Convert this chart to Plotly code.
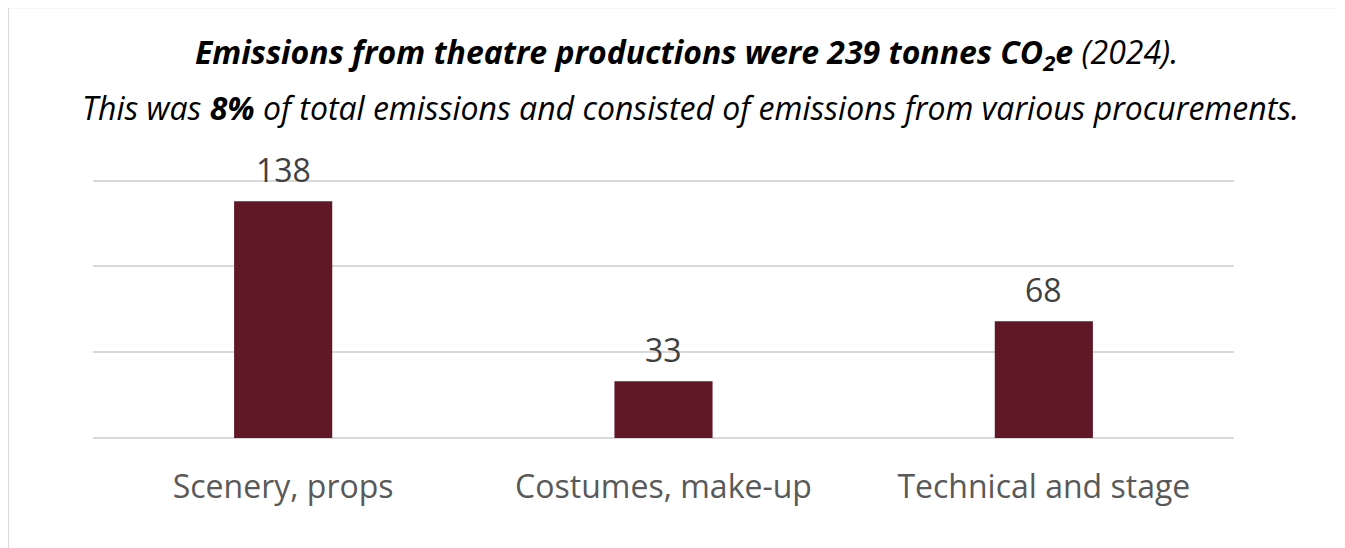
import plotly.graph_objects as go

categories = ["Scenery, props", "Costumes, make-up", "Technical and stage"]
values = [138, 33, 68]
y_ticks = [0, 50, 100, 150]

BAR_COLOR = "#601726"
GRID = "#d9d9d9"
FONT = "Open Sans"

W, H = 1345, 548
OFF = 8  # page body margin
# layout in page pixel coordinates of the reference
plot_left, plot_right = 93, 1234
base_y, top_grid_y = 438, 181
y_max = 155
px_per_unit = (base_y - top_grid_y) / 150
plot_top = base_y - y_max * px_per_unit

L = plot_left - OFF
T = plot_top - OFF
pw = plot_right - plot_left
ph = base_y - plot_top
R = W - L - pw
B = H - T - ph

def px_to_paper_x(px):
    return (px - plot_left) / pw

def px_to_paper_y(py):
    return (base_y - py) / ph

fig = go.Figure()
fig.add_trace(go.Bar(
    x=categories, y=values, marker_color=BAR_COLOR, marker_line_width=0,
    hoverinfo="x+y",
))

for c, v in zip(categories, values):
    fig.add_annotation(x=c, y=v, xref="x", yref="y", text=str(v), showarrow=False,
                       yanchor="bottom", yshift=8,
                       font=dict(family=FONT, size=32, color="#404040"))

fig.add_annotation(
    xref="paper", yref="paper", x=px_to_paper_x(686), y=px_to_paper_y(54),
    xanchor="center", yanchor="middle", showarrow=False,
    text="<b><i>Emissions from theatre productions were 239 tonnes CO<sub><span style='font-size:22px'>2</span></sub>e</i></b><i> (2024).</i>",
    font=dict(family=FONT, size=32, color="#000000"))
fig.add_annotation(
    xref="paper", yref="paper", x=px_to_paper_x(690), y=px_to_paper_y(108),
    xanchor="center", yanchor="middle", showarrow=False,
    text="<i>This was <b>8%</b> of total emissions and consisted of emissions from various procurements.</i>",
    font=dict(family=FONT, size=32, color="#000000"))

fig.add_shape(type="rect", xref="paper", yref="paper",
              x0=px_to_paper_x(OFF - 0.5), x1=px_to_paper_x(1400),
              y0=px_to_paper_y(650), y1=px_to_paper_y(OFF - 0.5),
              line=dict(color=GRID, width=3), fillcolor="rgba(0,0,0,0)", layer="below")

fig.update_layout(
    width=W, height=H,
    margin=dict(l=L, r=R, t=T, b=B, pad=0),
    paper_bgcolor="white", plot_bgcolor="white",
    bargap=0.742, showlegend=False,
    font=dict(family=FONT),
    xaxis=dict(showgrid=False, showline=False, ticks="", ticklabelstandoff=27,
               tickfont=dict(family=FONT, size=32, color="#595959")),
    yaxis=dict(range=[0, y_max], tickvals=y_ticks, showticklabels=False,
               showgrid=True, gridcolor=GRID, gridwidth=2, zeroline=True,
               zerolinecolor=GRID, zerolinewidth=2, showline=False),
)

fig.write_html("out.html")
